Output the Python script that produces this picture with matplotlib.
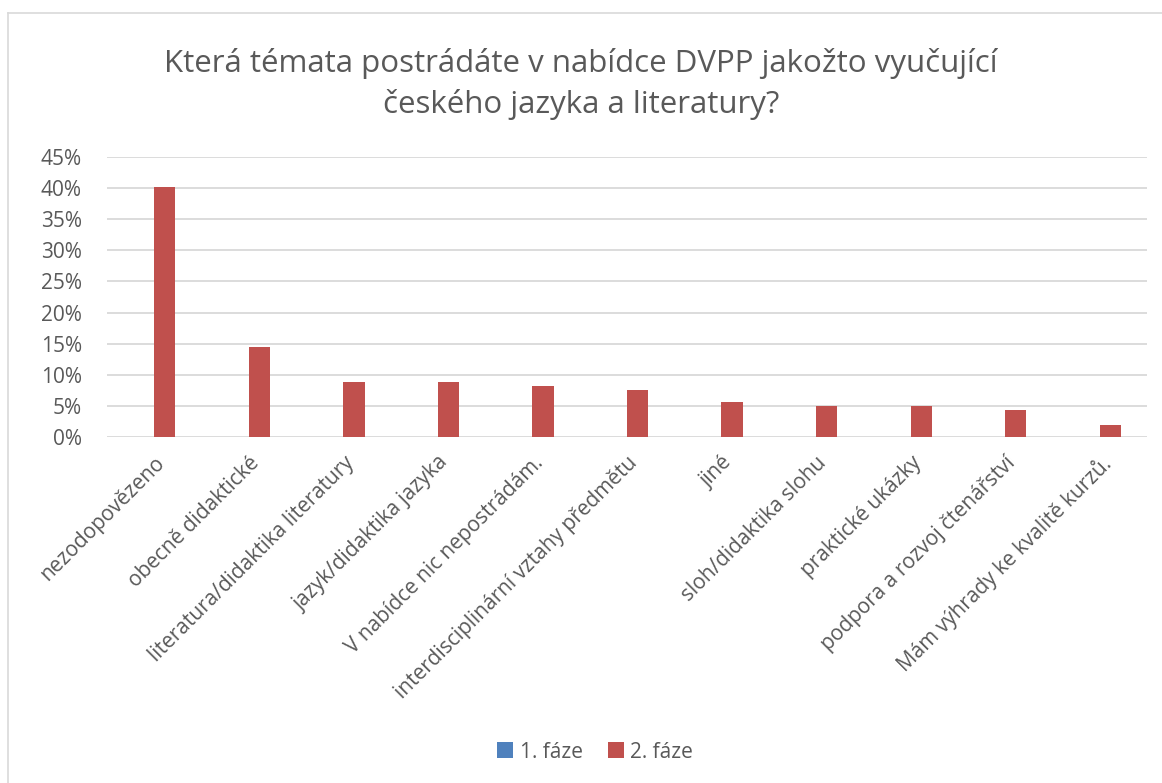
import numpy as np
import matplotlib.pyplot as plt
from matplotlib.lines import Line2D

plt.rcParams['font.family'] = ['Open Sans', 'DejaVu Sans']

kategorie = ['nezodopovězeno', 'obecně didaktické', 'literatura/didaktika literatury',
             'jazyk/didaktika jazyka', 'V nabídce nic nepostrádám.',
             'interdisciplinární vztahy předmětu', 'jiné', 'sloh/didaktika slohu',
             'praktické ukázky', 'podpora a rozvoj čtenářství', 'Mám výhrady ke kvalitě kurzů.']
faze1 = [0, 0, 0, 0, 0, 0, 0, 0, 0, 0, 0]
faze2 = [0.4025, 0.1447, 0.0881, 0.0881, 0.0818, 0.0755, 0.0566, 0.0503, 0.0503, 0.0440, 0.0189]
yticks = np.arange(0, 0.46, 0.05)

barva_text = '#595959'
fig = plt.figure(figsize=(11.62, 7.83), dpi=100)
ax = fig.add_axes([0.092, 0.442, 0.895, 0.3575])

x = np.arange(len(kategorie))
w = 0.225
ax.bar(x - w/2, faze1, w, color='#4f81bd', label='1. fáze', zorder=3)
ax.bar(x + w/2, faze2, w, color='#c0504d', label='2. fáze', zorder=3)

ax.set_xlim(-0.5, len(kategorie) - 0.5)
ax.set_ylim(0, 0.45)
ax.set_yticks(yticks)
ax.set_yticklabels(['%d%%' % round(v * 100) for v in yticks])
ax.yaxis.grid(True, color='#d9d9d9', linewidth=1.3, zorder=0)
for s in ax.spines.values():
    s.set_visible(False)
ax.tick_params(axis='both', length=0, labelsize=15, colors=barva_text)
ax.tick_params(axis='y', pad=18)
ax.set_xticks(x)
ax.set_xticklabels(kategorie, rotation=45, ha='right', rotation_mode='anchor')
ax.tick_params(axis='x', pad=11)

fig.text(0.5, 0.919, 'Která témata postrádáte v nabídce DVPP jakožto vyučující',
         ha='center', va='center', fontsize=22.5, color=barva_text)
fig.text(0.5, 0.867, 'českého jazyka a literatury?',
         ha='center', va='center', fontsize=22.5, color=barva_text)

fig.legend(loc='center', bbox_to_anchor=(595 / 1162, 1 - 752 / 783), ncol=2,
           frameon=False, fontsize=15, labelcolor=barva_text, handlelength=0.8,
           handleheight=0.8, handletextpad=0.3, columnspacing=1.2)

# okraj grafu
fig.add_artist(Line2D([8 / 1162, 8 / 1162], [0, 1 - 13 / 783], transform=fig.transFigure,
                      color='#d9d9d9', linewidth=1.2))
fig.add_artist(Line2D([8 / 1162, 1], [1 - 13 / 783, 1 - 13 / 783], transform=fig.transFigure,
                      color='#d9d9d9', linewidth=1.2))

fig.savefig('out.png', dpi=100)
